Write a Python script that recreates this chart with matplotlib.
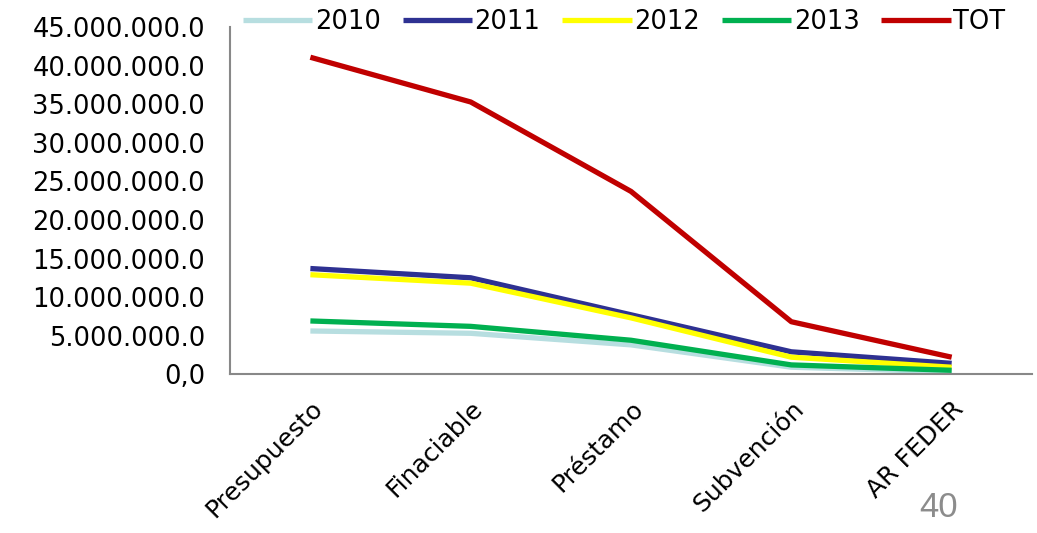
import matplotlib
matplotlib.use("Agg")
import matplotlib.pyplot as plt
import numpy as np

categories = ["Presupuesto", "Finaciable", "Préstamo", "Subvención", "AR FEDER"]
series_names = ["2010", "2011", "2012", "2013", "TOT"]
v2010 = [5.6e6, 5.3e6, 3.8e6, 0.9e6, 0.3e6]
v2011 = [13.7e6, 12.5e6, 7.7e6, 2.9e6, 1.4e6]
v2012 = [12.9e6, 11.8e6, 7.3e6, 2.2e6, 0.9e6]
v2013 = [6.9e6, 6.2e6, 4.4e6, 1.2e6, 0.5e6]
vtot = [41.1e6, 35.3e6, 23.7e6, 6.8e6, 2.2e6]
colors = ["#B7DEE0", "#2E3192", "#FFFF00", "#00B050", "#C00000"]
yticks = [0, 5e6, 10e6, 15e6, 20e6, 25e6, 30e6, 35e6, 40e6, 45e6]
ytick_labels = ["0,0", "5.000.000.0", "10.000.000.0", "15.000.000.0", "20.000.000.0",
                "25.000.000.0", "30.000.000.0", "35.000.000.0", "40.000.000.0",
                "45.000.000.0"]

plt.rcParams["font.family"] = ["DejaVu Sans"]

fig = plt.figure(figsize=(10.37, 5.33), dpi=100)
ax = fig.add_axes([0.222, 0.298, 0.773, 0.651])

x = np.arange(len(categories))
for name, vals, c in zip(series_names, [v2010, v2011, v2012, v2013, vtot], colors):
    ax.plot(x, vals, color=c, linewidth=3.8, label=name, solid_capstyle="butt")

ax.set_xlim(-0.5, len(categories) - 0.5)
ax.set_ylim(0, 45e6)
ax.set_yticks(yticks)
ax.set_yticklabels(ytick_labels, fontsize=18.5)
ax.set_xticks(x)
ax.set_xticklabels(categories, fontsize=18, rotation=45, ha="right",
                   rotation_mode="anchor")
ax.tick_params(axis="x", length=0, pad=16)
ax.tick_params(axis="y", length=0, pad=18)
for s in ["top", "right"]:
    ax.spines[s].set_visible(False)
for s in ["left", "bottom"]:
    ax.spines[s].set_color("#888888")
    ax.spines[s].set_linewidth(1.5)

fig.legend(loc="center", bbox_to_anchor=(0.602, 0.958), ncol=5, frameon=False,
           fontsize=18.5, handlelength=2.7, handletextpad=0.1, columnspacing=0.85)

fig.text(0.905, 0.047, "40", fontsize=25, color="#8c8c8c", ha="center", va="center",
         family="Liberation Sans")

fig.savefig("out.png", dpi=100, facecolor="white")
plt.close(fig)
